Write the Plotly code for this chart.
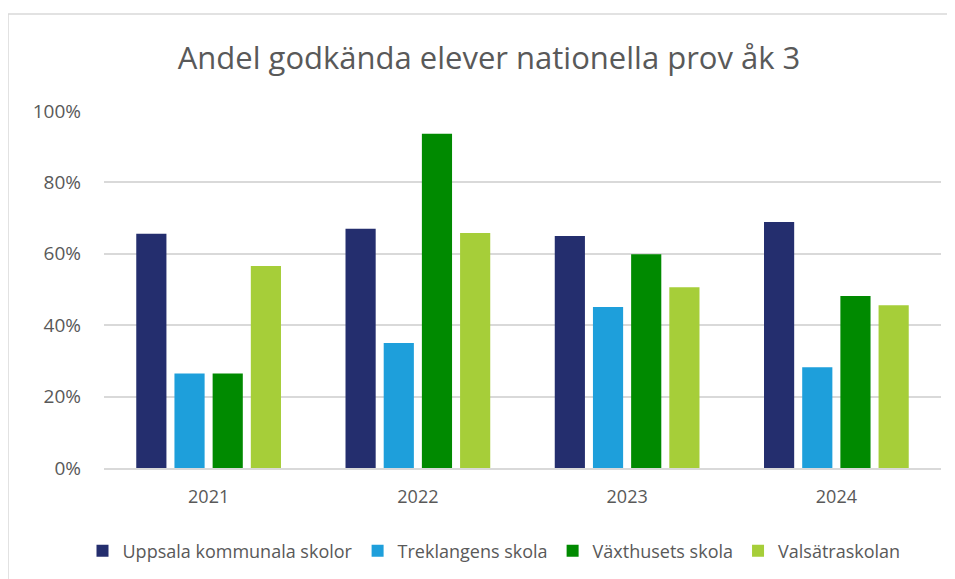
import plotly.graph_objects as go

years = ["2021", "2022", "2023", "2024"]
series_names = ["Uppsala kommunala skolor", "Treklangens skola", "Växthusets skola", "Valsätraskolan"]
uppsala = [65.6, 67.0, 65.0, 68.9]
treklangen = [26.5, 35.0, 45.1, 28.2]
vaxthuset = [26.5, 93.6, 59.9, 48.2]
valsatra = [56.6, 65.8, 50.6, 45.6]
colors = ["#242E6E", "#1E9FDB", "#008A00", "#A6CE39"]
y_ticks = [0, 20, 40, 60, 80, 100]
y_ticktext = ["0%", "20%", "40%", "60%", "80%", "100%"]

fig = go.Figure()
for name, vals, col in zip(series_names, [uppsala, treklangen, vaxthuset, valsatra], colors):
    fig.add_trace(go.Bar(x=years, y=vals, name=name, marker=dict(color=col, line=dict(width=0))))

font_family = "'Open Sans', sans-serif"
L, R, T, B = 96, 22, 103, 119
pw = 955 - L - R
ph = 579 - T - B
fig.update_layout(
    width=955, height=579,
    margin=dict(l=L, r=R, t=T, b=B),
    paper_bgcolor="white", plot_bgcolor="white",
    barmode="group", bargap=0.27, bargroupgap=0.21,
    title=dict(text="Andel godkända elever nationella prov åk 3", x=(488 - 7) / 955, xref="container", xanchor="center",
               y=1 - 50 / 579, yref="container", yanchor="middle",
               font=dict(family=font_family, size=31, color="#595959")),
    font=dict(family=font_family, color="#595959"),
    showlegend=True,
    legend=dict(orientation="h", x=(486 - L) / pw, xanchor="center", y=-(543 - (T + ph)) / ph, yanchor="middle",
                font=dict(size=18, color="#595959"), itemwidth=30, traceorder="normal"),
    yaxis=dict(range=[0, 100], tickvals=y_ticks, ticktext=y_ticktext, showgrid=True, gridcolor="#D9D9D9", gridwidth=1.5,
               zeroline=False, showline=False, tickfont=dict(size=19, color="#595959"), ticklabelstandoff=22),
    xaxis=dict(showline=True, linecolor="#D9D9D9", linewidth=1.5, tickfont=dict(size=18, color="#595959"),
               ticks="", ticklabelstandoff=12),
    shapes=[dict(type="rect", xref="paper", yref="paper",
                 x0=(0 - L) / pw, x1=1.1, y0=-0.5, y1=(T + ph - 6) / ph,
                 line=dict(color="#D9D9D9", width=1.5), fillcolor="rgba(0,0,0,0)", layer="below")],
)

fig.write_html("out.html")
